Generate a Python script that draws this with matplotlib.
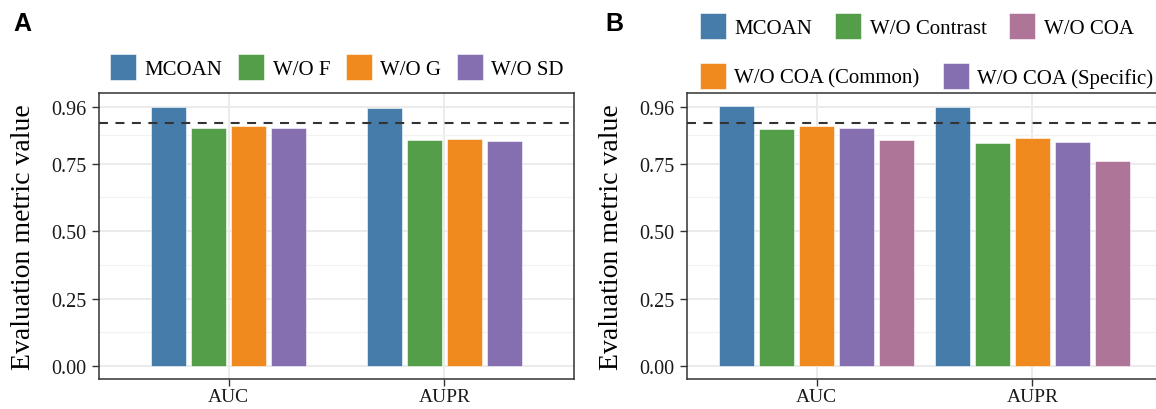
import numpy as np
import matplotlib
matplotlib.use("Agg")
import matplotlib.pyplot as plt
from matplotlib.patches import Patch

# data
metrics = ["AUC", "AUPR"]

models_a = ["MCOAN", "W/O F", "W/O G", "W/O SD"]
values_a = {
    "MCOAN": [0.961, 0.956],
    "W/O F": [0.884, 0.836],
    "W/O G": [0.890, 0.843],
    "W/O SD": [0.884, 0.835],
}

models_b = ["MCOAN", "W/O Contrast", "W/O COA (Common)", "W/O COA (Specific)", "W/O COA"]
values_b = {
    "MCOAN": [0.963, 0.960],
    "W/O Contrast": [0.879, 0.826],
    "W/O COA (Common)": [0.889, 0.845],
    "W/O COA (Specific)": [0.882, 0.830],
    "W/O COA": [0.837, 0.759],
}

baseline = 0.899
yticks = [0.00, 0.25, 0.50, 0.75, 0.96]
yminor = [0.125, 0.375, 0.625, 0.855]

colors = {
    "MCOAN": "#467CAA",
    "W/O F": "#549E4A",
    "W/O G": "#F08A1E",
    "W/O SD": "#866FB0",
    "W/O Contrast": "#549E4A",
    "W/O COA (Common)": "#F08A1E",
    "W/O COA (Specific)": "#866FB0",
    "W/O COA": "#AE7599",
}

W, H = 1156, 410
plt.rcParams["font.family"] = ["Liberation Serif", "DejaVu Serif"]
fig = plt.figure(figsize=(W / 100, H / 100), dpi=100)

pitch = 0.185
bar_w = 0.162


def draw_panel(ax, models, values):
    x = np.arange(len(metrics))
    n = len(models)
    for i, m in enumerate(models):
        off = (i - (n - 1) / 2) * pitch
        ax.bar(x + off, values[m], width=bar_w, color=colors[m],
               edgecolor="white", linewidth=0.4, zorder=3)
    ax.axhline(baseline, color="#333333", lw=1.5, dashes=(4.3, 3.6), zorder=4)
    ax.set_xlim(-0.6, 1.6)
    ax.set_ylim(-0.048, 1.012)
    ax.set_xticks(x)
    ax.set_xticklabels(metrics, fontsize=14)
    ax.set_yticks(yticks)
    ax.set_yticklabels(["%.2f" % t for t in yticks], fontsize=14.5)
    ax.set_yticks(yminor, minor=True)
    ax.tick_params(axis="y", which="minor", length=0)
    ax.tick_params(which="major", length=5, width=1, color="#333333",
                   labelcolor="#1a1a1a", pad=4)
    ax.tick_params(axis="x", pad=1.5)
    ax.grid(True, which="major", color="#EBEBEB", lw=1.4, zorder=0)
    ax.grid(True, which="minor", axis="y", color="#F2F2F2", lw=0.9, zorder=0)
    for s in ax.spines.values():
        s.set_color("#333333")
        s.set_linewidth(1.1)
    ax.set_ylabel("Evaluation metric value", fontsize=20, labelpad=11)


bottom = (H - 380) / H
height = (380 - 94) / H

ax_a = fig.add_axes([99 / W, bottom, 475 / W, height])
draw_panel(ax_a, models_a, values_a)

ax_b = fig.add_axes([687 / W, bottom, 475 / W, height])
draw_panel(ax_b, models_b, values_b)
ax_b.spines["right"].set_visible(False)

leg_kw = dict(frameon=False, fontsize=15, handlelength=1.25, handleheight=1.55,
              handletextpad=0.4, borderpad=0, borderaxespad=0)

handles_a = [Patch(facecolor=colors[m], edgecolor="white", lw=0.4) for m in models_a]
fig.legend(handles_a, models_a, loc="center", ncol=4, columnspacing=0.75,
           bbox_to_anchor=(337 / W, (H - 68) / H), **leg_kw)

row1 = ["MCOAN", "W/O Contrast", "W/O COA"]
row2 = ["W/O COA (Common)", "W/O COA (Specific)"]
fig.legend([Patch(facecolor=colors[m], edgecolor="white", lw=0.4) for m in row1], row1,
           loc="center left", ncol=3, columnspacing=1.1,
           bbox_to_anchor=(700 / W, (H - 27) / H), **leg_kw)
fig.legend([Patch(facecolor=colors[m], edgecolor="white", lw=0.4) for m in row2], row2,
           loc="center left", ncol=2, columnspacing=1.1,
           bbox_to_anchor=(700 / W, (H - 77) / H), **leg_kw)

fig.text(13 / W, (H - 24) / H, "A", fontsize=18, fontweight="bold",
         family="Liberation Sans", va="center", ha="left")
fig.text(605 / W, (H - 24) / H, "B", fontsize=18, fontweight="bold",
         family="Liberation Sans", va="center", ha="left")

fig.savefig("out.png", dpi=100)
